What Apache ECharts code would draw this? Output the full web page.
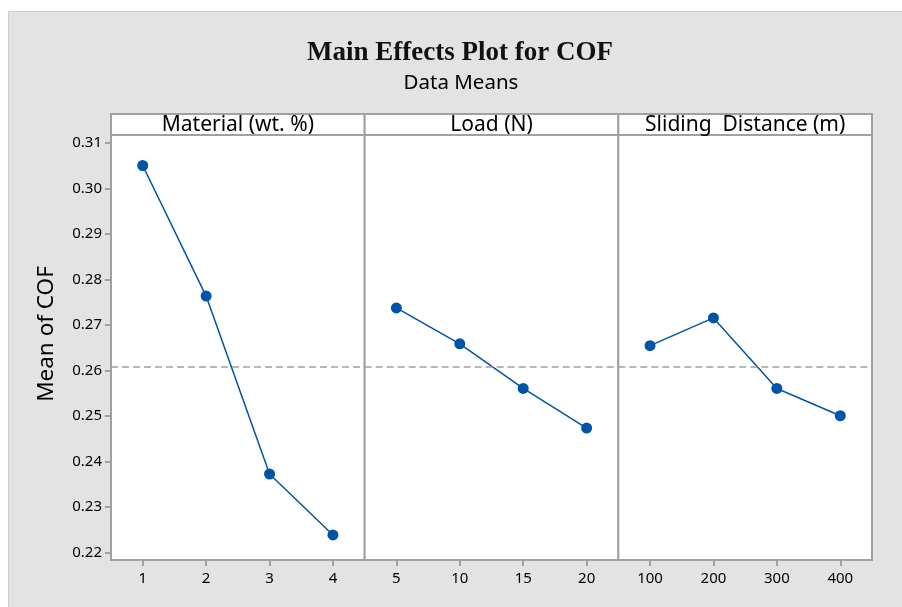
<!DOCTYPE html>
<html>
<head>
<meta charset="utf-8">
<script src="https://cdn.jsdelivr.net/npm/echarts@6/dist/echarts.min.js"></script>
<style>
  html, body { margin: 0; padding: 0; background: #fff; }
  #bg { position: absolute; left: 8px; top: 11px; width: 893px; height: 595px; background: #e3e3e3; border: 1px solid #d0d0d0; border-right: none; border-bottom: none; }
  #chart { position: absolute; left: 0; top: 0; width: 902px; height: 607px; }
</style>
</head>
<body>
<div id="bg"></div>
<div id="chart"></div>
<script>
// factor panels
const factorNames = ["Material (wt. %)", "Load (N)", "Sliding  Distance (m)"];

const materialLevels = ["1", "2", "3", "4"];
const materialMeans = [0.3051, 0.2764, 0.2373, 0.2239];

const loadLevels = ["5", "10", "15", "20"];
const loadMeans = [0.2738, 0.2659, 0.2561, 0.2474];

const distanceLevels = ["100", "200", "300", "400"];
const distanceMeans = [0.2655, 0.2716, 0.2561, 0.2501];

const grandMean = 0.2608;
const yTicks = [0.22, 0.23, 0.24, 0.25, 0.26, 0.27, 0.28, 0.29, 0.30, 0.31];

const levels = [materialLevels, loadLevels, distanceLevels];
const means = [materialMeans, loadMeans, distanceMeans];

// layout
const plotLeft = 111, plotRight = 872, plotTop = 135, plotBottom = 560, stripTop = 114;
const panelW = (plotRight - plotLeft) / 3;
const frameColor = "#a0a0a0";
const pointColor = "#0054a6";
const sansFont = "Noto Sans";

const chart = echarts.init(document.getElementById("chart"));

let grids = [], xAxes = [], yAxes = [], series = [], graphics = [];

for (let i = 0; i < 3; i++) {
  grids.push({
    left: plotLeft + i * panelW,
    width: panelW,
    top: plotTop,
    height: plotBottom - plotTop,
    show: true,
    backgroundColor: "#fff",
    borderColor: frameColor,
    borderWidth: 2
  });
  xAxes.push({
    type: "category",
    gridIndex: i,
    data: levels[i],
    axisLine: { show: false },
    axisTick: { show: true, alignWithLabel: true, length: 6, lineStyle: { color: frameColor, width: 2 } },
    axisLabel: { color: "#000", fontSize: 15, fontFamily: sansFont, margin: 11 }
  });
  yAxes.push({
    type: "value",
    gridIndex: i,
    min: 0.2184,
    max: 0.3118,
    axisLine: { show: false },
    splitLine: { show: false },
    axisTick: {
      show: i === 0,
      length: 6,
      customValues: yTicks,
      lineStyle: { color: frameColor, width: 2 }
    },
    axisLabel: {
      show: i === 0,
      customValues: yTicks,
      color: "#000",
      fontSize: 15,
      fontFamily: sansFont,
      margin: 9,
      formatter: function (v) { return v.toFixed(2); }
    }
  });
  series.push({
    type: "line",
    xAxisIndex: i,
    yAxisIndex: i,
    data: means[i],
    symbol: "circle",
    symbolSize: 11,
    itemStyle: { color: pointColor },
    lineStyle: { color: pointColor, width: 1.5 },
    z: 3,
    markLine: {
      silent: true,
      symbol: "none",
      precision: 4,
      label: { show: false },
      lineStyle: { color: "#a0a0a0", type: [7, 4], width: 1.5 },
      data: [{ yAxis: grandMean }]
    }
  });
  // header strip
  graphics.push({
    type: "rect",
    shape: { x: plotLeft + i * panelW, y: stripTop, width: panelW, height: plotTop - stripTop },
    style: { fill: "#fff", stroke: frameColor, lineWidth: 2 }
  });
  graphics.push({
    type: "text",
    x: plotLeft + (i + 0.5) * panelW,
    y: stripTop + (plotTop - stripTop) / 2 + 1,
    style: {
      text: factorNames[i],
      fill: "#000",
      font: "21px '" + sansFont + "'",
      textAlign: "center",
      textVerticalAlign: "middle"
    }
  });
}

// y axis title
graphics.push({
  type: "text",
  x: 47,
  y: 334,
  rotation: Math.PI / 2,
  style: {
    text: "Mean of COF",
    fill: "#000",
    font: "22.5px '" + sansFont + "'",
    textAlign: "center",
    textVerticalAlign: "middle"
  }
});

graphics.push({
  type: "text",
  x: 460,
  y: 53,
  style: {
    text: "Main Effects Plot for COF",
    fill: "#111",
    font: "bold 27px 'Liberation Serif'",
    textAlign: "center",
    textVerticalAlign: "middle"
  }
});
graphics.push({
  type: "text",
  x: 461,
  y: 83,
  style: {
    text: "Data Means",
    fill: "#000",
    font: "20.5px '" + sansFont + "'",
    textAlign: "center",
    textVerticalAlign: "middle"
  }
});

chart.setOption({
  animation: false,
  grid: grids,
  xAxis: xAxes,
  yAxis: yAxes,
  series: series,
  graphic: graphics
});
</script>
</body>
</html>
